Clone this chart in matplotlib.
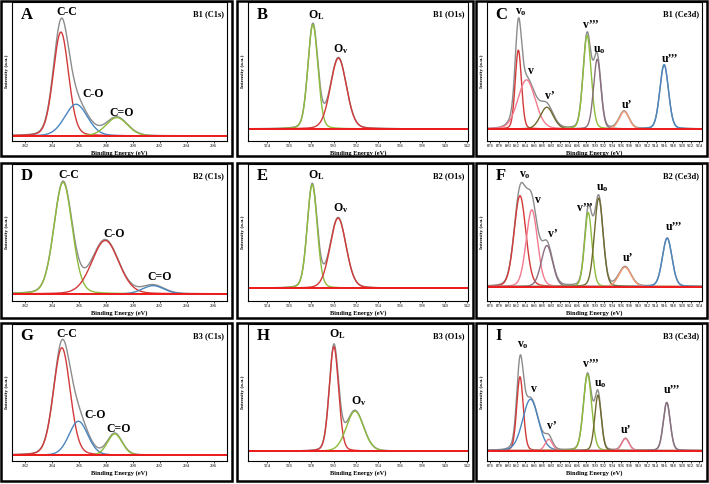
import numpy as np
import matplotlib
matplotlib.use("Agg")
import matplotlib.pyplot as plt
from matplotlib.patches import Rectangle

plt.rcParams['font.family'] = ['Liberation Serif', 'DejaVu Serif']
plt.rcParams['mathtext.fontset'] = 'custom'
plt.rcParams['mathtext.rm'] = 'Liberation Serif:bold'
plt.rcParams['mathtext.bf'] = 'Liberation Serif:bold'
plt.rcParams['mathtext.it'] = 'Liberation Serif:bold'

# ---- colours used by the fitted components
RED = '#d23a3a'
BLUE = '#4a86c0'
GREEN = '#8dbb3c'
GREY = '#8c8c8c'
PINK = '#f47a90'
OLIVE = '#6f6a2e'
ORANGE = '#f59a72'
MAUVE = '#8a6f80'
BASE = '#ee1c1c'

# ---- data: peak centres (eV), heights (a.u.), widths (sigma, eV), colours
# A: B1 C1s
A_cen = [284.64, 285.77, 288.8]
A_hgt = [311, 95, 55]
A_sig = [0.57, 0.85, 0.8]
A_col = [RED, BLUE, GREEN]
A_lab = ['C-C', 'C-O', 'C=O']
A_labxy = [(285.1, 372), (287.05, 125), (289.15, 70)]

# B: B1 O1s
B_cen = [528.14, 530.44]
B_hgt = [312, 212]
B_sig = [0.45, 0.72]
B_col = [GREEN, RED]
B_lab = [r'O$_\mathrm{L}$', r'O$_\mathrm{v}$']
B_labxy = [(528.4, 340), (530.6, 240)]

# C: B1 Ce3d
C_cen = [882.4, 884.28, 888.94, 898.2, 900.53, 906.7, 915.9]
C_hgt = [236, 147, 65, 280, 209, 52, 192]
C_sig = [0.72, 2.0, 1.5, 0.92, 0.85, 1.15, 1.0]
C_col = [RED, PINK, OLIVE, GREEN, MAUVE, ORANGE, BLUE]
C_lab = [r'v$_\mathrm{o}$', 'v', 'v’', 'v’’’', r'u$_\mathrm{o}$', 'u’', 'u’’’']
C_labxy = [(882.9, 350), (885.3, 172), (889.6, 100), (899.0, 312), (900.9, 236),
           (907.3, 72), (917.2, 210)]

# D: B2 C1s
D_cen = [284.8, 287.94, 291.5]
D_hgt = [334, 160, 25]
D_sig = [0.68, 1.0, 0.8]
D_col = [GREEN, RED, BLUE]
D_lab = ['C-C', 'C-O', 'C=O']
D_labxy = [(285.2, 356), (288.6, 180), (292.0, 50)]

# E: B2 O1s
E_cen = [528.08, 530.41]
E_hgt = [310, 210]
E_sig = [0.45, 0.72]
E_col = [GREEN, RED]
E_lab = [r'O$_\mathrm{L}$', r'O$_\mathrm{v}$']
E_labxy = [(528.4, 340), (530.6, 240)]

# F: B2 Ce3d
F_cen = [882.78, 885.5, 888.96, 898.46, 900.87, 906.9, 916.6]
F_hgt = [272, 230, 123, 222, 265, 58, 145]
F_sig = [1.35, 1.3, 1.3, 0.85, 1.0, 1.4, 1.1]
F_col = [RED, PINK, MAUVE, GREEN, OLIVE, ORANGE, BLUE]
F_lab = [r'v$_\mathrm{o}$', 'v', 'v’', 'v’’’', r'u$_\mathrm{o}$', 'u’', 'u’’’']
F_labxy = [(883.8, 335), (886.8, 258), (890.3, 158), (897.7, 236), (901.6, 296),
           (907.5, 86), (918.1, 178)]

# G: B3 C1s
G_cen = [284.71, 285.94, 288.65]
G_hgt = [322, 102, 64]
G_sig = [0.62, 0.7, 0.55]
G_col = [RED, BLUE, GREEN]
G_lab = ['C-C', 'C-O', 'C=O']
G_labxy = [(285.1, 362), (287.2, 122), (288.9, 80)]

# H: B3 O1s
H_cen = [530.03, 531.93]
H_hgt = [313, 120]
H_sig = [0.42, 0.78]
H_col = [RED, GREEN]
H_lab = [r'O$_\mathrm{L}$', r'O$_\mathrm{v}$']
H_labxy = [(530.3, 350), (532.3, 150)]

# I: B3 Ce3d
I_cen = [882.78, 885.2, 889.4, 898.3, 900.7, 907.0, 916.5]
I_hgt = [221, 154, 34, 228, 166, 36, 144]
I_sig = [0.75, 1.8, 0.85, 0.95, 0.75, 0.85, 0.8]
I_col = [RED, BLUE, PINK, GREEN, OLIVE, PINK, MAUVE]
I_lab = [r'v$_\mathrm{o}$', 'v', 'v’', 'v’’’', r'u$_\mathrm{o}$', 'u’', 'u’’’']
I_labxy = [(883.5, 316), (885.9, 184), (890.0, 74), (899.1, 260), (901.3, 200),
           (907.1, 62), (917.7, 180)]

panels = [
    ('A', 'B1 (C1s)', A_cen, A_hgt, A_sig, A_col, A_lab, A_labxy),
    ('B', 'B1 (O1s)', B_cen, B_hgt, B_sig, B_col, B_lab, B_labxy),
    ('C', 'B1 (Ce3d)', C_cen, C_hgt, C_sig, C_col, C_lab, C_labxy),
    ('D', 'B2 (C1s)', D_cen, D_hgt, D_sig, D_col, D_lab, D_labxy),
    ('E', 'B2 (O1s)', E_cen, E_hgt, E_sig, E_col, E_lab, E_labxy),
    ('F', 'B2 (Ce3d)', F_cen, F_hgt, F_sig, F_col, F_lab, F_labxy),
    ('G', 'B3 (C1s)', G_cen, G_hgt, G_sig, G_col, G_lab, G_labxy),
    ('H', 'B3 (O1s)', H_cen, H_hgt, H_sig, H_col, H_lab, H_labxy),
    ('I', 'B3 (Ce3d)', I_cen, I_hgt, I_sig, I_col, I_lab, I_labxy),
]

# x ranges and ticks for each region
xlims = {'C1s': (281.0, 297.0), 'O1s': (522.3, 542.1), 'Ce3d': (875.2, 924.6)}
xticks = {'C1s': np.arange(282, 297, 2), 'O1s': np.arange(524, 543, 2),
          'Ce3d': np.arange(876, 925, 2)}
ylims = [(-15, 401), (-36, 380), (-36, 380),
         (-21, 389), (-38, 372), (-43, 367),
         (-17, 393), (-29, 381), (-31, 379)]

# layout in pixels
W, H = 709, 484
cols = [(1, 232), (237, 473), (476, 707)]
rows = [(1, 156), (163, 318), (323, 481)]
ax_top = [2, 164, 324]
ax_bot = [141, 301, 461]

fig = plt.figure(figsize=(W / 100, H / 100), dpi=100)


def peak(x, c, h, s, eta=0.15):
    fwhm = 2.3548 * s
    g = np.exp(-(x - c) ** 2 / (2 * s ** 2))
    l = 1.0 / (1.0 + ((x - c) / (fwhm / 2)) ** 2)
    return h * ((1 - eta) * g + eta * l)


for i, (letter, title, cen, hgt, sig, col, lab, labxy) in enumerate(panels):
    r, c = divmod(i, 3)
    x0, x1 = cols[c]
    y0, y1 = rows[r]
    left = x0 + 11
    right = x1 - 5
    ax = fig.add_axes([left / W, 1 - ax_bot[r] / H, (right - left) / W,
                       (ax_bot[r] - ax_top[r]) / H])
    region = title.split('(')[1].rstrip(')')
    lo, hi = xlims[region]
    x = np.linspace(lo, hi, 1500)
    total = np.zeros_like(x)
    for cc, hh, ss, kk in zip(cen, hgt, sig, col):
        yy = peak(x, cc, hh, ss)
        total += yy
        ax.plot(x, yy, color=kk, lw=1.0)
    ax.plot(x, total, color=GREY, lw=1.0, zorder=1)
    ax.axhline(0, color=BASE, lw=1.4)
    for t, (tx, ty) in zip(lab, labxy):
        ax.text(tx, ty, t, ha='center', va='center', fontsize=8.5,
                fontweight='bold')
    ax.text(0.04, 0.91, letter, transform=ax.transAxes, fontsize=12,
            fontweight='bold', ha='left', va='center')
    ax.text(0.985, 0.91, title, transform=ax.transAxes, fontsize=6,
            fontweight='bold', ha='right', va='center')
    ax.set_xlim(lo, hi)
    ax.set_ylim(*ylims[i])
    ax.set_xticks(xticks[region])
    ax.tick_params(axis='x', labelsize=3.3, length=1.5, width=0.5, pad=1)
    ax.set_yticks([])
    ax.set_xlabel('Binding Energy (eV)', fontsize=4.6, fontweight='bold', labelpad=1)
    ax.set_ylabel('Intensity (a.u.)', fontsize=3.8, fontweight='bold', labelpad=2)
    for sp in ax.spines.values():
        sp.set_linewidth(0.8)
    # outer frame of the panel
    fig.add_artist(Rectangle((x0 / W, 1 - y1 / H), (x1 - x0) / W, (y1 - y0) / H,
                             transform=fig.transFigure, fill=False,
                             edgecolor='black', linewidth=1.8))

fig.savefig('out.png', dpi=100)
